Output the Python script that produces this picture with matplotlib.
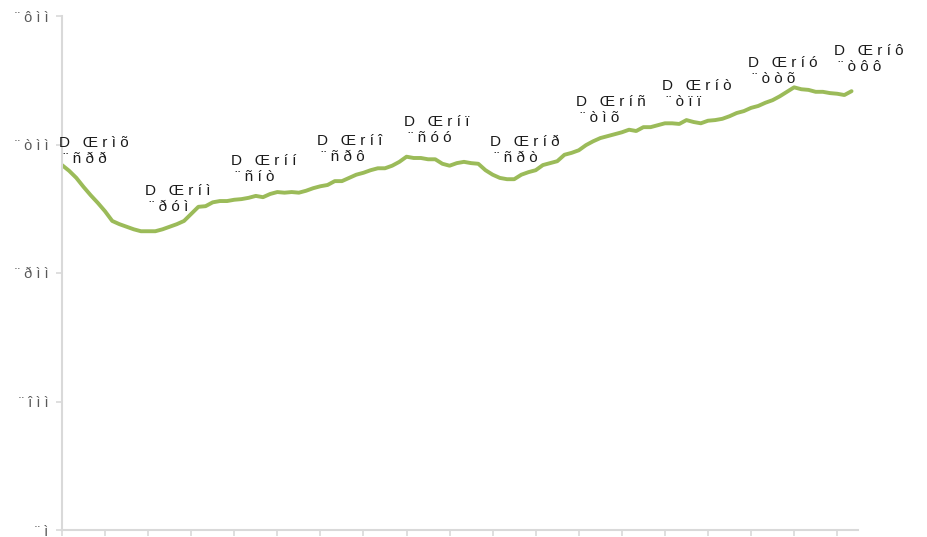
import numpy as np
import matplotlib
matplotlib.use("Agg")
import matplotlib.pyplot as plt

# monthly series
values = [568, 559, 548, 534, 521, 509, 496, 481, 476, 472,
          468, 465, 465, 465, 468, 472, 476, 481, 492, 503,
          504, 510, 512, 512, 514, 515, 517, 520, 518, 523,
          526, 525, 526, 525, 528, 532, 535, 537, 543, 543,
          548, 553, 556, 560, 563, 563, 567, 573, 581, 579,
          579, 577, 577, 570, 567, 571, 573, 571, 570, 560,
          553, 548, 546, 546, 553, 557, 560, 568, 571, 574,
          584, 587, 591, 599, 605, 610, 613, 616, 619, 623,
          621, 627, 627, 630, 633, 633, 632, 638, 635, 633,
          637, 638, 640, 644, 649, 652, 657, 660, 665, 669,
          675, 682, 689, 686, 685, 682, 682, 680, 679, 677, 683]

# yearly labels
label_idx = [0, 12, 24, 36, 48, 60, 72, 84, 96, 108]
label_val = [544, 470, 516, 548, 577, 546, 609, 633, 669, 688]
label_top = ["D Œrìõ", "D Œríì", "D Œríí", "D Œríî", "D Œríï",
             "D Œríð", "D Œríñ", "D Œríò", "D Œríó", "D Œríô"]
label_bot = ["¨ñðð", "¨ðóì", "¨ñíò", "¨ñðô", "¨ñóó",
             "¨ñðò", "¨òìõ", "¨òïï", "¨òòõ", "¨òôô"]

yticks = [0, 200, 400, 600, 800]
ytick_labels = ["¨ì", "¨îìì", "¨ðìì", "¨òìì", "¨ôìì"]


def spaced(s):
    return " ".join(s)


plt.rcParams['font.family'] = ['Liberation Sans', 'DejaVu Sans']

fig = plt.figure(figsize=(9.28, 5.37), dpi=100)
ax = fig.add_axes([62/928, 7/537, (858-62)/928, (530-16)/537])

x = np.arange(len(values))
ax.plot(x, values, color='#9BBB59', lw=2.8, solid_capstyle='round', solid_joinstyle='round')

for i, v, t, b in zip(label_idx, label_val, label_top, label_bot):
    ax.annotate(spaced(t) + "\n " + spaced(b), xy=(i, v), xytext=(-3, 14),
                textcoords='offset pixels', ha='left', va='bottom',
                multialignment='left', fontsize=11, color='#1a1a1a',
                linespacing=1.2, annotation_clip=False)

ax.set_xlim(0, 110.9)
ax.set_ylim(0, 800)
ax.set_xticks(np.arange(0, 109, 6))
ax.set_xticklabels([])
ax.set_yticks(yticks)
ax.set_yticklabels([spaced(s) for s in ytick_labels], fontsize=10.5, color='#595959')

for side in ['top', 'right']:
    ax.spines[side].set_visible(False)
for side in ['left', 'bottom']:
    ax.spines[side].set_color('#d9d9d9')
    ax.spines[side].set_linewidth(1.5)
ax.tick_params(axis='both', color='#d9d9d9', width=1.2, length=4)
ax.tick_params(axis='y', pad=6)

fig.savefig('out.png', dpi=100)
